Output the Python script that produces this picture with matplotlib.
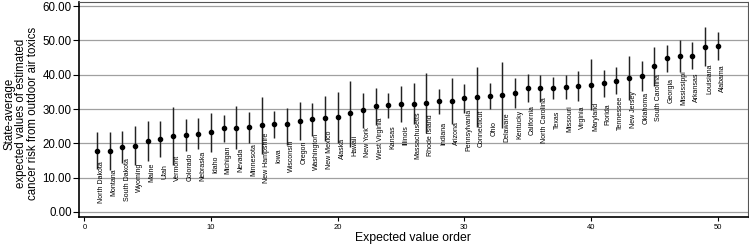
import numpy as np
import matplotlib
matplotlib.use('Agg')
import matplotlib.pyplot as plt

plt.rcParams['font.family'] = ['Liberation Sans', 'DejaVu Sans']

# states in expected value order, with point estimate and interval
states = ['North Dakota', 'Montana', 'South Dakota', 'Wyoming', 'Maine', 'Utah',
          'Vermont', 'Colorado', 'Nebraska', 'Idaho', 'Michigan', 'Nevada',
          'Minnesota', 'New Hampshire', 'Iowa', 'Wisconsin', 'Oregon',
          'Washington', 'New Mexico', 'Alaska', 'Hawaii', 'New York',
          'West Virginia', 'Kansas', 'Illinois', 'Massachusetts', 'Rhode Island',
          'Indiana', 'Arizona', 'Pennsylvania', 'Connecticut', 'Ohio',
          'Delaware', 'Kentucky', 'California', 'North Carolina', 'Texas',
          'Missouri', 'Virginia', 'Maryland', 'Florida', 'Tennessee',
          'New Jersey', 'Oklahoma', 'South Carolina', 'Georgia', 'Mississippi',
          'Arkansas', 'Louisiana', 'Alabama']

expected = [17.9, 17.9, 18.8, 19.3, 20.8, 21.2, 22.2, 22.5, 22.8, 23.2,
            24.5, 24.5, 24.7, 25.2, 25.6, 25.6, 26.6, 27.0, 27.5, 27.7,
            28.8, 29.7, 30.8, 31.1, 31.6, 31.6, 31.8, 32.3, 32.3, 33.2,
            33.6, 33.7, 34.0, 34.8, 36.1, 36.1, 36.1, 36.5, 36.8, 37.1,
            37.7, 38.3, 39.1, 39.6, 42.5, 44.8, 45.5, 45.5, 48.2, 48.3]

upper = [23.2, 23.4, 23.6, 25.1, 26.5, 26.4, 30.7, 27.1, 27.3, 28.8,
         28.3, 30.9, 29.2, 33.5, 29.3, 30.2, 32.0, 31.7, 33.8, 35.0,
         38.3, 34.7, 36.0, 34.7, 36.8, 37.5, 40.5, 35.9, 38.9, 37.4,
         42.1, 37.5, 43.6, 39.0, 40.1, 40.0, 39.3, 40.0, 41.1, 44.5,
         41.5, 42.2, 45.5, 44.1, 48.1, 48.6, 50.1, 49.4, 53.9, 52.3]

lower = [12.5, 12.2, 14.2, 13.7, 15.0, 16.0, 13.7, 17.9, 18.3, 17.4,
         20.5, 18.3, 20.0, 16.9, 21.5, 19.5, 21.0, 22.0, 20.8, 20.2,
         19.0, 24.4, 25.3, 27.3, 26.1, 25.6, 22.9, 28.6, 25.6, 28.9,
         24.9, 29.9, 24.4, 30.2, 32.1, 32.1, 32.9, 32.9, 32.4, 29.7,
         33.6, 34.3, 32.6, 35.1, 36.8, 40.9, 40.9, 41.7, 42.5, 44.3]

order = np.arange(1, len(states) + 1)
expected = np.array(expected)
upper = np.array(upper)
lower = np.array(lower)

fig = plt.figure(figsize=(7.49, 2.48), dpi=100)
ax = fig.add_axes([79 / 749, 1 - 216.7 / 248, 668.7 / 749, 214.7 / 248])

ax.set_axisbelow(True)
ax.yaxis.grid(True, color='#a0a0a0', lw=0.9)

ax.vlines(order, lower, upper, color='#222222', lw=1.05, zorder=2)
ax.plot(order, expected, 'o', color='black', ms=3, zorder=3)

for x, y, name in zip(order, expected, states):
    ax.annotate(name, (x, y), xytext=(3.3, -23), textcoords='offset points',
                rotation=90, ha='center', va='center', fontsize=5)

ax.set_xlim(-0.43, 52.38)
ax.set_ylim(-1.37, 61.17)
ax.set_yticks(np.arange(0, 61, 10))
ax.set_yticklabels(['%.2f' % v for v in np.arange(0, 61, 10)], fontsize=8.3)
ax.set_xticks(np.arange(0, 51, 10))
ax.tick_params(axis='x', labelsize=5.5, length=3, width=0.8, pad=2)
ax.tick_params(axis='y', length=4.3, width=0.8, pad=1)

for side in ['left', 'bottom']:
    ax.spines[side].set_color('black')
    ax.spines[side].set_linewidth(1.2)
for side in ['top', 'right']:
    ax.spines[side].set_color('#555555')
    ax.spines[side].set_linewidth(0.8)

ax.set_xlabel('Expected value order', fontsize=8.8, labelpad=1)
ax.set_ylabel('State-average\nexpected values of estimated\ncancer risk from outdoor air toxics',
              fontsize=8.3, linespacing=0.95)
ax.yaxis.label.set_va('center')
ax.yaxis.set_label_coords((21 - 79) / 668.7, 0.48)

fig.savefig('out.png', dpi=100)
